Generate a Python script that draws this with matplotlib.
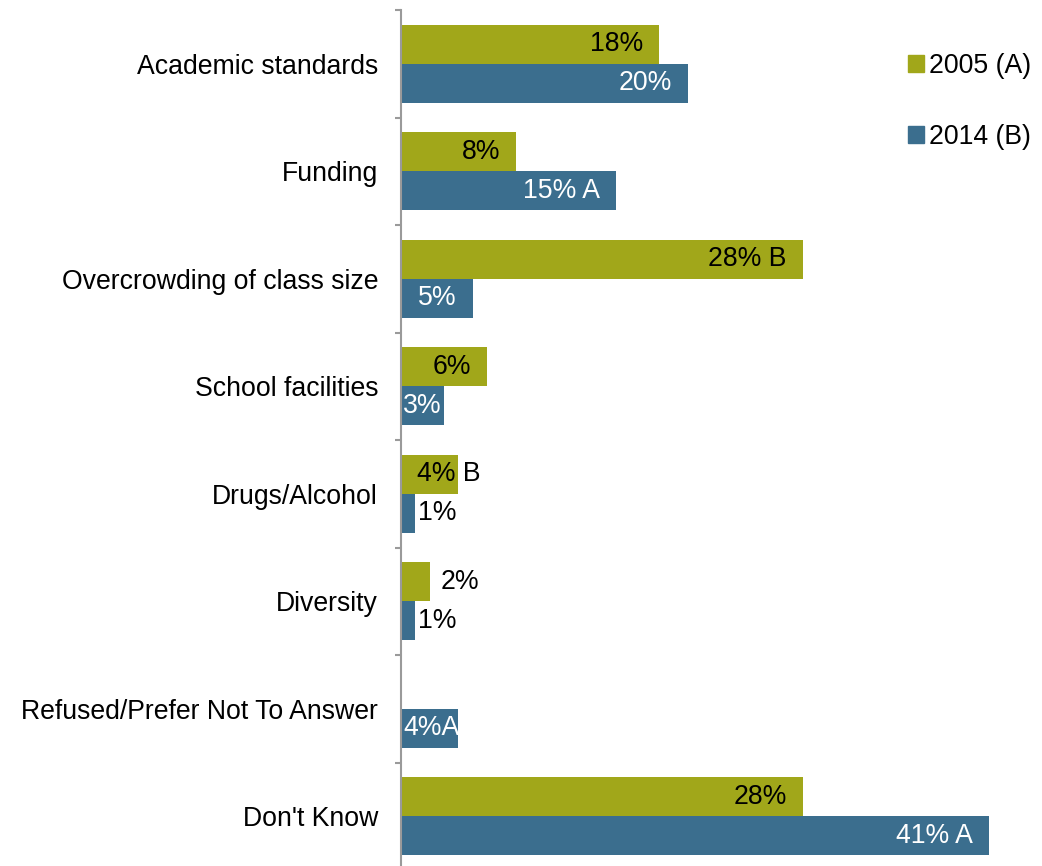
import numpy as np
import matplotlib.pyplot as plt
from matplotlib.patches import Patch

plt.rcParams['font.family'] = ['Liberation Sans', 'DejaVu Sans']

# Data
categories = ["Academic standards", "Funding", "Overcrowding of class size",
              "School facilities", "Drugs/Alcohol", "Diversity",
              "Refused/Prefer Not To Answer", "Don't Know"]
vals_2005 = [18, 8, 28, 6, 4, 2, 0, 28]
vals_2014 = [20, 15, 5, 3, 1, 1, 4, 41]
labels_2005 = ["18%", "8%", "28% B", "6%", "4% B", "2%", "", "28%"]
labels_2014 = ["20%", "15% A", "5%", "3%", "1%", "1%", "4%A", "41% A"]

olive = "#A1A71A"
blue = "#3B6E8E"

fig = plt.figure(figsize=(10.42, 8.66), dpi=100)
ax = fig.add_axes([401 / 1042, -4 / 866, 641 / 1042, 860 / 866])

y = np.arange(len(categories))
h = 0.363
ax.barh(y - h / 2, vals_2005, height=h, color=olive)
ax.barh(y + h / 2, vals_2014, height=h, color=blue)

ax.set_xlim(0, 44.7)
ax.set_ylim(len(categories) - 0.5, -0.5)

fs = 19.2


def put_label(yy, v, txt, color):
    if not txt:
        return
    if v >= 5:
        ax.text(v - 1.1, yy, txt, ha="right", va="center", fontsize=fs, color=color)
    elif txt.startswith("4% B"):
        ax.text(1.1, yy, txt, ha="left", va="center", fontsize=fs, color="black")
    elif v >= 3:
        ax.text(0.15, yy, txt, ha="left", va="center", fontsize=fs, color=color)
    elif v == 2:
        ax.text(v + 0.75, yy, txt, ha="left", va="center", fontsize=fs, color="black")
    else:
        ax.text(v + 0.2, yy, txt, ha="left", va="center", fontsize=fs, color="black")


for i in range(len(categories)):
    put_label(y[i] - h / 2, vals_2005[i], labels_2005[i], "black")
    put_label(y[i] + h / 2, vals_2014[i], labels_2014[i], "white")

for s in ["top", "right", "bottom"]:
    ax.spines[s].set_visible(False)
ax.spines["left"].set_color("#9A9A9A")
ax.spines["left"].set_linewidth(1.5)

ax.set_xticks([])
ax.set_yticks(y)
ax.set_yticklabels(categories, fontsize=fs)
ax.tick_params(axis="y", which="major", length=0, pad=16.5)
ax.set_yticks(np.arange(len(categories) + 1) - 0.5, minor=True)
ax.tick_params(axis="y", which="minor", length=4.5, width=1.5, color="#9A9A9A", direction="out")

handles = [Patch(color=olive, label="2005 (A)"), Patch(color=blue, label="2014 (B)")]
fig.legend(handles=handles, loc="upper left", bbox_to_anchor=(897 / 1042, 1 - 42 / 866),
           frameon=False, fontsize=fs, handlelength=0.6, handleheight=0.6,
           handletextpad=0.2, labelspacing=1.7, borderaxespad=0)

fig.savefig("out.png", dpi=100)
